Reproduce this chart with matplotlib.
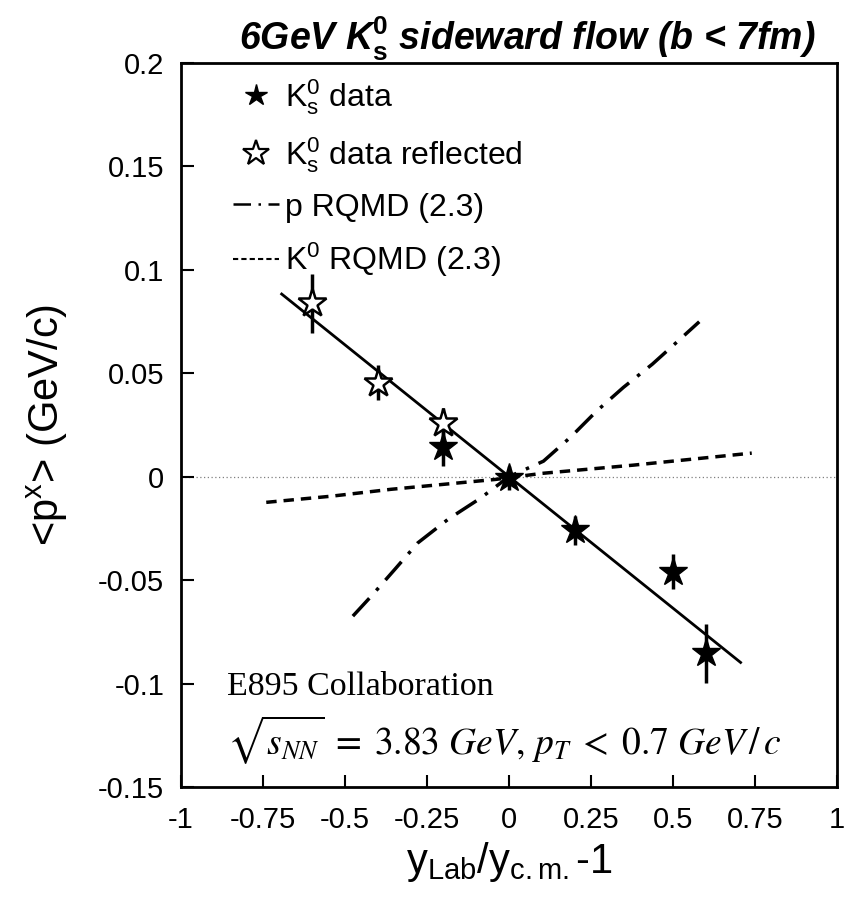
import numpy as np
import matplotlib
matplotlib.use("Agg")
import matplotlib.pyplot as plt
from matplotlib.lines import Line2D

plt.rcParams['font.family'] = ['Liberation Sans', 'DejaVu Sans']
plt.rcParams['mathtext.fontset'] = 'custom'
plt.rcParams['mathtext.rm'] = 'Liberation Sans'
plt.rcParams['mathtext.it'] = 'Liberation Sans:italic'
plt.rcParams['mathtext.bf'] = 'Liberation Sans:bold'

# measured K0s points (filled stars)
data_x = [-0.2, 0.0, 0.2, 0.5, 0.6]
data_y = [0.0145, -0.0008, -0.0258, -0.046, -0.0854]
data_err = [0.0095, 0.0058, 0.0070, 0.0085, 0.0144]

# reflected points (open stars)
refl_x = [-0.6, -0.4, -0.2]
refl_y = [0.0838, 0.0454, 0.0258]
refl_err = [0.0142, 0.0084, 0.0072]

# linear fit through the data
fit_x = [-0.693, 0.706]
fit_y = [0.0883, -0.0898]

# p RQMD (2.3)
p_x = [-0.476, -0.419, -0.347, -0.278, -0.185, -0.088, 0.0, 0.105, 0.189, 0.267, 0.349, 0.437, 0.521, 0.580]
p_y = [-0.0674, -0.0576, -0.0446, -0.0320, -0.0205, -0.0105, 0.0, 0.0075, 0.0193, 0.0317, 0.0432, 0.0544, 0.0664, 0.0749]

# K0 RQMD (2.3)
k_x = [-0.74, -0.54, -0.36, -0.04, 0.10, 0.38, 0.74]
k_y = [-0.0124, -0.0094, -0.0061, -0.0013, 0.0016, 0.0056, 0.0114]

x_ticks = [-1, -0.75, -0.5, -0.25, 0, 0.25, 0.5, 0.75, 1]
x_ticklabels = ['-1', '-0.75', '-0.5', '-0.25', '0', '0.25', '0.5', '0.75', '1']
y_ticks = [-0.15, -0.1, -0.05, 0, 0.05, 0.1, 0.15, 0.2]
y_ticklabels = ['-0.15', '-0.1', '-0.05', '0', '0.05', '0.1', '0.15', '0.2']

fig = plt.figure(figsize=(8.46, 9.02), dpi=100)
ax = fig.add_axes([0.2139, 0.1275, 0.7755, 0.8027])

ax.axhline(0, color='gray', lw=0.9, ls=(0, (1, 2)), zorder=1)

dashdot = (0, (7, 3, 1, 3))
ax.plot(p_x, p_y, color='black', lw=2.5, ls=dashdot, zorder=2)
ax.plot(k_x, k_y, color='black', lw=2.5, ls=(0, (3, 2)), zorder=2)
ax.plot(fit_x, fit_y, color='black', lw=2, zorder=3)

ax.errorbar(data_x, data_y, yerr=data_err, fmt='none', ecolor='black', elinewidth=2.5, capsize=0, zorder=4)
ax.errorbar(refl_x, refl_y, yerr=refl_err, fmt='none', ecolor='black', elinewidth=2.5, capsize=0, zorder=4)
ax.plot(refl_x, refl_y, ls='none', marker='*', ms=21, mfc='white', mec='black', mew=1.8, zorder=5)
ax.plot(data_x, data_y, ls='none', marker='*', ms=21, mfc='black', mec='black', zorder=5)

ax.set_xlim(-1, 1)
ax.set_ylim(-0.15, 0.2)
ax.set_xticks(x_ticks)
ax.set_xticklabels(x_ticklabels)
ax.set_yticks(y_ticks)
ax.set_yticklabels(y_ticklabels)
ax.tick_params(direction='in', length=9, width=1.5, labelsize=21, pad=14)
ax.tick_params(axis='y', pad=12)
for s in ax.spines.values():
    s.set_linewidth(2)

ax.set_xlabel(r'y$_\mathrm{Lab}$/y$_\mathrm{c.m.}$-1', fontsize=30, labelpad=4)
ax.set_ylabel(r'<p$^\mathrm{x}$> (GeV/c)', fontsize=30, labelpad=20)
ax.set_title(r'6GeV K$_{\mathbf{s}}^{\mathbf{0}}$ sideward flow (b < 7fm)',
             fontsize=27, fontweight='bold', style='italic', pad=8, x=0.527)

handles = [
    Line2D([], [], ls='none', marker='*', ms=16, mfc='black', mec='black'),
    Line2D([], [], ls='none', marker='*', ms=19, mfc='white', mec='black', mew=1.6),
    Line2D([], [], color='black', lw=1.8, ls=(0, (7, 3, 1, 3))),
    Line2D([], [], color='black', lw=1.5, ls=(0, (2.5, 1.5))),
]
labels = [r'K$_\mathrm{s}^0$ data', r'K$_\mathrm{s}^0$ data reflected',
          'p RQMD (2.3)', r'K$^0$ RQMD (2.3)']
ax.legend(handles, labels, loc='upper left', bbox_to_anchor=(0.035, 1.02), frameon=False,
          fontsize=23, handlelength=1.45, labelspacing=0.56, handletextpad=0.2)

ax.text(0.07, 0.127, 'E895 Collaboration', transform=ax.transAxes,
        fontsize=24.5, family='Liberation Serif')
ax.text(0.07, 0.045, r'$\sqrt{s_{NN}}\; =\; 3.83\ GeV,\, p_T\; <\; 0.7\ GeV\,/\,c$',
        transform=ax.transAxes, fontsize=27, math_fontfamily='stix')

fig.savefig('out.png', dpi=100)
